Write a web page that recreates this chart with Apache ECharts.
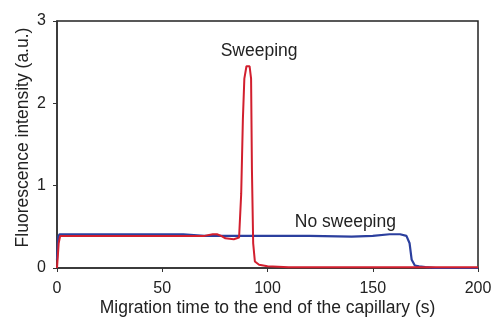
<!DOCTYPE html>
<html>
<head>
<meta charset="utf-8">
<script src="https://cdn.jsdelivr.net/npm/echarts@6/dist/echarts.min.js"></script>
<style>
  html, body { margin: 0; padding: 0; background: #fff; }
  #chart { width: 493px; height: 318px; }
</style>
</head>
<body>
<div id="chart"></div>
<script>
// time (s) / intensity (a.u.)
const sweepTime = [0, 0.8, 1.5, 20, 40, 60, 70, 74, 76, 78, 80, 84, 86.5, 87.5, 88.3, 89, 90, 91.5, 92.2, 92.6, 93.2, 94, 96, 100, 110, 150, 200]
const sweepValue = [0, 0.3, 0.39, 0.39, 0.39, 0.39, 0.39, 0.41, 0.41, 0.39, 0.36, 0.35, 0.37, 0.9, 1.8, 2.3, 2.45, 2.45, 2.3, 1.2, 0.3, 0.08, 0.04, 0.02, 0.01, 0.01, 0.01]
const noSweepTime = [0, 0.6, 1.2, 30, 60, 70, 80, 100, 120, 140, 150, 158, 163, 166, 167.5, 168.5, 170, 172, 175, 180, 200]
const noSweepValue = [0.1, 0.38, 0.41, 0.41, 0.41, 0.39, 0.39, 0.39, 0.39, 0.38, 0.39, 0.41, 0.41, 0.39, 0.3, 0.1, 0.03, 0.02, 0.01, 0, 0]
const xTicks = [0, 200, 50]
const yTicks = [0, 3, 1]

const zip = (xs, ys) => xs.map((x, i) => [x, ys[i]])

const chart = echarts.init(document.getElementById('chart'), null, { renderer: 'canvas' })
const font = 'Liberation Sans, Arial, sans-serif'
const axisCommon = {
  axisLine: { show: true, lineStyle: { color: '#333', width: 1.5 } },
  axisTick: { show: true, length: 4, lineStyle: { color: '#333' } },
  splitLine: { show: false },
  axisLabel: { color: '#222', fontSize: 16, fontFamily: font },
  nameTextStyle: { color: '#222', fontSize: 17.5, fontFamily: font }
}
const noteStyle = { show: true, color: '#222', fontSize: 17.5, fontFamily: font }

chart.setOption({
  animation: false,
  grid: {
    left: 57, right: 15, top: 21, bottom: 50,
    outerBoundsMode: 'none', containLabel: false,
    show: true, borderColor: '#222', borderWidth: 1.5
  },
  xAxis: Object.assign({}, axisCommon, {
    type: 'value',
    min: xTicks[0], max: xTicks[1], interval: xTicks[2],
    name: 'Migration time to the end of the capillary (s)',
    nameLocation: 'middle', nameGap: 31, nameMoveOverlap: false,
    axisLabel: Object.assign({}, axisCommon.axisLabel, { margin: 13 })
  }),
  yAxis: Object.assign({}, axisCommon, {
    type: 'value',
    min: yTicks[0], max: yTicks[1], interval: yTicks[2],
    name: 'Fluorescence intensity (a.u.)',
    nameLocation: 'middle', nameGap: 25, nameMoveOverlap: false,
    nameTextStyle: Object.assign({}, axisCommon.nameTextStyle, { padding: [0, 0, 0, 14] }),
    axisLabel: Object.assign({}, axisCommon.axisLabel, { margin: 11 })
  }),
  series: [
    {
      name: 'No sweeping',
      type: 'line',
      data: zip(noSweepTime, noSweepValue),
      showSymbol: false,
      lineStyle: { color: '#2b3f9e', width: 2.2 },
      markPoint: {
        symbol: 'circle', symbolSize: 0,
        label: Object.assign({ formatter: 'No sweeping' }, noteStyle),
        data: [{ coord: [137, 0.56] }]
      }
    },
    {
      name: 'Sweeping',
      type: 'line',
      data: zip(sweepTime, sweepValue),
      showSymbol: false,
      lineStyle: { color: '#d21f2e', width: 2 },
      markPoint: {
        symbol: 'circle', symbolSize: 0,
        label: Object.assign({ formatter: 'Sweeping' }, noteStyle),
        data: [{ coord: [96, 2.63] }]
      }
    }
  ]
})
</script>
</body>
</html>
